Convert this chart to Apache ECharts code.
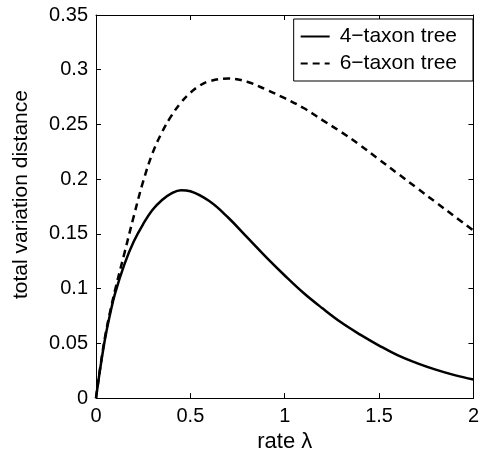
<!DOCTYPE html>
<html>
<head>
<meta charset="utf-8">
<script src="https://cdn.jsdelivr.net/npm/echarts@6/dist/echarts.min.js"></script>
<style>
  html, body { margin: 0; padding: 0; background: #fff; }
  #chart { width: 482px; height: 458px; }
</style>
</head>
<body>
<div id="chart"></div>
<script>
// values
var xs4 = [0, 0.025, 0.05, 0.075, 0.1, 0.15, 0.2, 0.25, 0.3, 0.35, 0.4, 0.45, 0.5, 0.6, 0.7, 0.8, 0.9, 1.0, 1.1, 1.2, 1.3, 1.4, 1.5, 1.6, 1.7, 1.8, 1.9, 2.0]
var taxon4 = [0, 0.030, 0.056, 0.077, 0.095, 0.122, 0.143, 0.159, 0.172, 0.181, 0.187, 0.190, 0.189, 0.180, 0.165, 0.147, 0.129, 0.112, 0.096, 0.082, 0.069, 0.058, 0.048, 0.039, 0.032, 0.026, 0.021, 0.017]

var xs6 = [0, 0.025, 0.05, 0.075, 0.1, 0.15, 0.2, 0.25, 0.3, 0.35, 0.4, 0.45, 0.5, 0.55, 0.6, 0.7, 0.8, 0.9, 1.0, 1.1, 1.2, 1.3, 1.4, 1.5, 1.6, 1.7, 1.8, 1.9, 2.0]
var taxon6 = [0, 0.031, 0.058, 0.079, 0.098, 0.132, 0.166, 0.198, 0.224, 0.243, 0.258, 0.270, 0.279, 0.2855, 0.2895, 0.292, 0.289, 0.282, 0.274, 0.265, 0.254, 0.243, 0.231, 0.218, 0.205, 0.192, 0.179, 0.166, 0.153]

var seriesNames = ['4\u2212taxon tree', '6\u2212taxon tree']
var xName = 'rate \u03bb'
var yName = 'total variation distance'

function pairs(xs, ys) {
  var out = []
  for (var i = 0; i < xs.length; i++) out.push([xs[i], ys[i]])
  return out
}

var font = 'Liberation Sans, Arial, Helvetica, sans-serif'
var axisLine = { show: true, onZero: false, lineStyle: { color: '#000', width: 1 } }
var tick = { show: true, inside: true, length: 5, lineStyle: { color: '#000' } }

var myChart = echarts.init(document.getElementById('chart'))

var option = {
  animation: false,
  backgroundColor: '#fff',
  grid: { left: 96, right: 5, top: 15, bottom: 58, containLabel: false },
  legend: {
    data: seriesNames,
    orient: 'vertical',
    right: 9,
    top: 19,
    backgroundColor: '#fff',
    borderColor: '#000',
    borderWidth: 1,
    borderRadius: 0,
    padding: [7, 16, 7, 6],
    itemWidth: 29,
    itemHeight: 14,
    itemGap: 6,
    itemStyle: { opacity: 0 },
    textStyle: { fontFamily: font, fontSize: 21, color: '#000', padding: [0, 0, 0, 5] }
  },
  xAxis: [
    {
      type: 'value', min: 0, max: 2, interval: 0.5,
      name: xName, nameLocation: 'middle', nameGap: 32,
      nameTextStyle: { fontFamily: font, fontSize: 22, color: '#000' },
      axisLine: axisLine, axisTick: tick,
      axisLabel: { fontFamily: font, fontSize: 20, color: '#000', margin: 8 },
      splitLine: { show: false }
    },
    {
      type: 'value', min: 0, max: 2, interval: 0.5, position: 'top',
      axisLine: axisLine, axisTick: tick,
      axisLabel: { show: false }, splitLine: { show: false }
    }
  ],
  yAxis: [
    {
      type: 'value', min: 0, max: 0.35, interval: 0.05,
      name: yName, nameLocation: 'middle', nameGap: 64,
      nameTextStyle: { fontFamily: font, fontSize: 21, color: '#000', padding: [0, 0, 0, 24] },
      axisLine: axisLine, axisTick: tick,
      axisLabel: { fontFamily: font, fontSize: 20, color: '#000', margin: 8 },
      splitLine: { show: false }
    },
    {
      type: 'value', min: 0, max: 0.35, interval: 0.05, position: 'right',
      axisLine: axisLine, axisTick: tick,
      axisLabel: { show: false }, splitLine: { show: false }
    }
  ],
  series: [
    {
      name: seriesNames[0],
      type: 'line',
      xAxisIndex: 0, yAxisIndex: 0,
      smooth: 0.4,
      symbol: 'none',
      lineStyle: { color: '#000', width: 2.5, type: 'solid' },
      itemStyle: { color: '#000' },
      data: pairs(xs4, taxon4)
    },
    {
      name: seriesNames[1],
      type: 'line',
      xAxisIndex: 0, yAxisIndex: 0,
      smooth: 0.4,
      symbol: 'none',
      lineStyle: { color: '#000', width: 2.5, type: [7, 5] },
      itemStyle: { color: '#000' },
      data: pairs(xs6, taxon6)
    }
  ]
}

option && myChart.setOption(option)
</script>
</body>
</html>
